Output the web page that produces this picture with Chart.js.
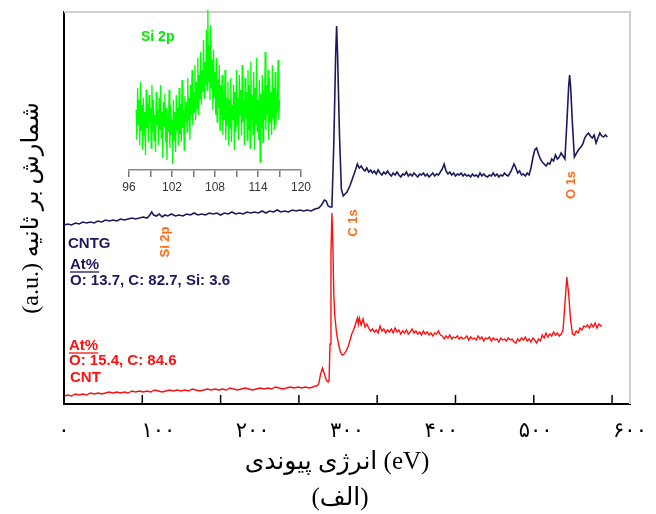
<!DOCTYPE html>
<html>
<head>
<meta charset="utf-8">
<script src="https://cdn.jsdelivr.net/npm/chart.js@4.4.0/dist/chart.umd.min.js"></script>
<style>
  body { margin: 0; background: #fff; }
  #wrap { position: relative; width: 656px; height: 514px; }
  #main { position: absolute; left: 0; top: 0; }
  #inset { position: absolute; left: 100px; top: 0; }
</style>
</head>
<body>
<div id="wrap">
  <canvas id="main" width="656" height="514"></canvas>
  <canvas id="inset" width="230" height="210"></canvas>
</div>
<script>
// binding energy (eV) / counts (a.u.)
const cntgEnergy = [0, 4, 8, 12, 16, 20, 24, 28, 32, 36, 40, 44, 48, 52, 56, 60, 64, 68, 72, 76, 80, 84, 88, 91, 93, 95, 98, 101, 104, 107, 110, 114, 118, 122, 126, 130, 134, 138, 142, 146, 150, 154, 158, 162, 166, 170, 174, 178, 182, 186, 190, 194, 198, 202, 206, 210, 214, 218, 222, 226, 230, 234, 238, 242, 246, 250, 254, 258, 262, 266, 270, 273, 276, 278, 280, 282, 284, 286, 288, 289, 290, 292, 294, 296, 298, 300, 303, 306, 309, 311, 313, 315, 317, 319, 321, 323, 325, 327, 329, 331, 333, 335, 337, 339, 341, 343, 345, 347, 349, 351, 353, 355, 357, 359, 361, 363, 365, 367, 369, 371, 373, 375, 377, 379, 381, 383, 385, 387, 389, 391, 393, 395, 397, 399, 401, 403, 405, 407, 409, 411, 413, 415, 417, 419, 421, 423, 425, 427, 429, 431, 433, 435, 437, 439, 441, 443, 445, 447, 449, 451, 453, 455, 457, 459, 461, 463, 465, 467, 469, 471, 474, 477, 479, 481, 483, 485, 487, 489, 491, 493, 495, 497, 499, 501, 503, 505, 507, 509, 511, 513, 515, 517, 519, 521, 523, 525, 527, 529, 531, 533, 535, 536, 537, 539, 541, 544, 546, 548, 550, 552, 554, 556, 558, 560, 562, 564, 566, 568, 570, 572, 574, 576];
const cntgCounts = [179, 180, 179, 181, 180, 182, 181, 182, 181, 183, 182, 184, 183, 184, 183, 185, 184, 185, 186, 185, 186, 187, 186, 189, 192, 189, 188, 190, 187, 189, 188, 190, 188, 189, 188, 190, 189, 191, 189, 190, 189, 191, 190, 191, 189, 191, 190, 192, 190, 191, 190, 192, 191, 192, 191, 193, 191, 193, 192, 194, 192, 193, 192, 194, 193, 194, 193, 194, 193, 195, 196, 199, 204, 203, 198, 197, 197, 260, 350, 378, 350, 270, 215, 208, 210, 212, 218, 226, 234, 240, 236, 238, 235, 233, 236, 232, 234, 231, 233, 230, 234, 231, 229, 232, 230, 233, 230, 228, 231, 229, 232, 229, 227, 230, 229, 232, 228, 230, 228, 231, 229, 227, 230, 229, 231, 228, 230, 227, 229, 231, 228, 230, 229, 232, 235, 240, 233, 230, 232, 229, 231, 228, 230, 229, 231, 228, 230, 228, 229, 227, 230, 228, 229, 227, 231, 228, 230, 228, 227, 229, 228, 231, 228, 230, 227, 229, 228, 231, 229, 228, 233, 240, 236, 231, 233, 229, 230, 228, 231, 229, 236, 246, 254, 256, 250, 245, 242, 240, 238, 241, 240, 245, 243, 249, 245, 247, 251, 248, 245, 280, 318, 329, 318, 280, 247, 252, 255, 257, 260, 266, 269, 271, 268, 266, 269, 261, 266, 271, 268, 267, 269, 267];

const cntEnergy = [0, 4, 8, 12, 16, 20, 24, 28, 32, 36, 40, 44, 48, 52, 56, 60, 64, 68, 72, 76, 80, 84, 88, 92, 96, 100, 104, 108, 112, 116, 120, 124, 128, 132, 136, 140, 144, 148, 152, 156, 160, 164, 168, 172, 176, 180, 184, 188, 192, 196, 200, 204, 208, 212, 216, 220, 224, 228, 232, 236, 240, 244, 248, 252, 256, 260, 264, 266, 268, 270, 272, 274, 276, 278, 280, 281, 282, 283, 284, 285, 286, 287, 289, 291, 293, 295, 297, 299, 301, 303, 305, 307, 309, 311, 312, 313, 315, 317, 319, 321, 323, 325, 327, 329, 331, 333, 335, 337, 339, 341, 343, 345, 347, 349, 351, 353, 355, 357, 359, 361, 363, 365, 367, 369, 371, 373, 375, 377, 379, 381, 383, 385, 387, 389, 391, 393, 395, 397, 399, 401, 403, 405, 407, 409, 411, 413, 415, 417, 419, 421, 423, 425, 427, 429, 431, 433, 435, 437, 439, 441, 443, 445, 447, 449, 451, 453, 455, 457, 459, 461, 463, 465, 467, 469, 471, 473, 475, 477, 479, 481, 483, 485, 487, 489, 491, 493, 495, 497, 499, 501, 503, 505, 507, 509, 511, 513, 515, 517, 519, 521, 523, 525, 527, 529, 531, 533, 535, 537, 539, 541, 543, 545, 547, 549, 551, 553, 555, 557, 559, 561, 563, 565, 567, 569, 570];
const cntCounts = [8, 9, 8, 10, 9, 10, 9, 11, 10, 11, 10, 11, 12, 11, 12, 11, 12, 11, 13, 12, 13, 12, 13, 12, 14, 13, 12, 13, 14, 13, 14, 13, 14, 13, 15, 14, 13, 14, 15, 14, 15, 14, 15, 14, 16, 15, 14, 15, 16, 15, 14, 15, 16, 15, 16, 15, 17, 16, 15, 16, 17, 16, 17, 16, 17, 16, 17, 18, 18, 20, 30, 36, 30, 24, 22, 24, 60, 150, 191, 160, 110, 89, 70, 60, 52, 49, 50, 53, 57, 63, 70, 74, 80, 86, 80, 86, 79, 85, 77, 80, 76, 73, 75, 72, 74, 71, 78, 73, 75, 71, 74, 72, 75, 71, 76, 72, 74, 70, 73, 71, 74, 70, 72, 75, 71, 73, 70, 72, 69, 73, 70, 72, 69, 71, 68, 71, 70, 73, 69, 68, 65, 68, 66, 69, 65, 67, 66, 68, 65, 67, 65, 66, 68, 64, 67, 65, 66, 64, 68, 65, 67, 63, 66, 65, 67, 63, 66, 64, 65, 62, 66, 64, 65, 63, 66, 64, 65, 62, 61, 65, 63, 66, 64, 67, 63, 65, 62, 66, 64, 61, 65, 63, 69, 66, 71, 67, 70, 68, 72, 69, 71, 68, 70, 74, 100, 127, 110, 84, 70, 69, 73, 71, 76, 74, 78, 77, 79, 76, 80, 77, 81, 76, 80, 78, 79];

// inset: Si 2p high-resolution region of CNTG, 0.1 eV steps from 97 to 117
const si2pEnergy = [97.0, 97.1, 97.2, 97.3, 97.4, 97.5, 97.6, 97.7, 97.8, 97.9, 98.0, 98.1, 98.2, 98.3, 98.4, 98.5, 98.6, 98.7, 98.8, 98.9, 99.0, 99.1, 99.2, 99.3, 99.4, 99.5, 99.6, 99.7, 99.8, 99.9, 100.0, 100.1, 100.2, 100.3, 100.4, 100.5, 100.6, 100.7, 100.8, 100.9, 101.0, 101.1, 101.2, 101.3, 101.4, 101.5, 101.6, 101.7, 101.8, 101.9, 102.0, 102.1, 102.2, 102.3, 102.4, 102.5, 102.6, 102.7, 102.8, 102.9, 103.0, 103.1, 103.2, 103.3, 103.4, 103.5, 103.6, 103.7, 103.8, 103.9, 104.0, 104.1, 104.2, 104.3, 104.4, 104.5, 104.6, 104.7, 104.8, 104.9, 105.0, 105.1, 105.2, 105.3, 105.4, 105.5, 105.6, 105.7, 105.8, 105.9, 106.0, 106.1, 106.2, 106.3, 106.4, 106.5, 106.6, 106.7, 106.8, 106.9, 107.0, 107.1, 107.2, 107.3, 107.4, 107.5, 107.6, 107.7, 107.8, 107.9, 108.0, 108.1, 108.2, 108.3, 108.4, 108.5, 108.6, 108.7, 108.8, 108.9, 109.0, 109.1, 109.2, 109.3, 109.4, 109.5, 109.6, 109.7, 109.8, 109.9, 110.0, 110.1, 110.2, 110.3, 110.4, 110.5, 110.6, 110.7, 110.8, 110.9, 111.0, 111.1, 111.2, 111.3, 111.4, 111.5, 111.6, 111.7, 111.8, 111.9, 112.0, 112.1, 112.2, 112.3, 112.4, 112.5, 112.6, 112.7, 112.8, 112.9, 113.0, 113.1, 113.2, 113.3, 113.4, 113.5, 113.6, 113.7, 113.8, 113.9, 114.0, 114.1, 114.2, 114.3, 114.4, 114.5, 114.6, 114.7, 114.8, 114.9, 115.0, 115.1, 115.2, 115.3, 115.4, 115.5, 115.6, 115.7, 115.8, 115.9, 116.0, 116.1, 116.2, 116.3, 116.4, 116.5, 116.6, 116.7, 116.8, 116.9, 117.0];
const si2pCounts = [
    60, 30, 82, 45, 70, 25, 88, 40, 65, 20,
    72, 35, 58, 15, 80, 42, 66, 28, 75, 48,
    62, 22, 85, 38, 70, 30, 55, 18, 78, 45,
    60, 25, 72, 40, 85, 32, 58, 12, 68, 44,
    76, 28, 62, 10, 55, 38, 80, 22, 65, 35,
    50, 6, 70, 30, 58, 18, 75, 40, 62, 25,
    82, 36, 66, 28, 90, 42, 60, 20, 74, 48,
    68, 38, 92, 50, 72, 30, 85, 55, 100, 45,
    78, 58, 105, 50, 88, 62, 112, 55, 95, 70,
    118, 65, 100, 78, 130, 72, 108, 85, 140, 80,
    160, 88, 125, 70, 145, 82, 110, 60, 120, 72,
    98, 55, 112, 48, 90, 62, 105, 40, 85, 55,
    95, 35, 78, 50, 100, 30, 72, 45, 88, 25,
    70, 42, 92, 28, 65, 50, 85, 20, 78, 38,
    100, 45, 72, 30, 95, 55, 80, 35, 105, 48,
    70, 25, 92, 52, 78, 30, 100, 40, 85, 22,
    108, 50, 75, 35, 98, 20, 82, 45, 112, 38,
    70, 30, 90, 8, 76, 42, 95, 28, 80, 50,
    118, 40, 85, 55, 100, 30, 92, 48, 78, 35,
    105, 52, 82, 40, 98, 45, 76, 58, 110, 50,
    70,
];

const xTickLabels = ["۰", "۱۰۰", "۲۰۰", "۳۰۰", "۴۰۰", "۵۰۰", "۶۰۰"];
const xTickMarks = [0, 83, 166, 249, 332, 415, 498, 581];
const insetTickLabels = [96, 102, 108, 114, 120];

const NAVY = "#1a1a5c";
const ORANGE = "#ff6a13";
const RED = "#ff1010";
const SANS = "'Liberation Sans', Arial, sans-serif";
const SERIF = "'Liberation Serif', 'DejaVu Serif', 'DejaVu Sans', serif";

const toPoints = (xs, ys) => xs.map((e, i) => ({ x: e, y: ys[i] }));

// frame, inward tick marks and all the text on the plot
const decorPlugin = {
    id: "decor",
    afterDraw(chart) {
        const { ctx, chartArea: a, scales: { x, y } } = chart;
        ctx.save();
        ctx.strokeStyle = "#cfcfcf";
        ctx.lineWidth = 2;
        ctx.beginPath();
        ctx.moveTo(a.left, a.top);
        ctx.lineTo(a.right, a.top);
        ctx.lineTo(a.right, a.bottom);
        ctx.stroke();

        ctx.strokeStyle = "#000";
        ctx.lineWidth = 1.5;
        xTickMarks.forEach((v) => {
            const px = x.getPixelForValue(v);
            ctx.beginPath();
            ctx.moveTo(px, a.bottom);
            ctx.lineTo(px, a.bottom - 9);
            ctx.stroke();
        });

        // peak labels, rotated
        const peaks = [
            { text: "Si 2p", e: 108, c: 162 },
            { text: "C 1s", e: 307, c: 181 },
            { text: "O 1s", e: 538, c: 219 },
        ];
        ctx.fillStyle = ORANGE;
        ctx.font = "bold 13px " + SANS;
        ctx.textAlign = "center";
        ctx.textBaseline = "middle";
        peaks.forEach((p) => {
            ctx.save();
            ctx.translate(x.getPixelForValue(p.e), y.getPixelForValue(p.c));
            ctx.rotate(-Math.PI / 2);
            ctx.fillText(p.text, 0, 0);
            ctx.restore();
        });

        // sample notes
        const line = (text, px, py, color, underline) => {
            ctx.fillStyle = color;
            ctx.fillText(text, px, py);
            if (underline) {
                const w = ctx.measureText(text).width;
                ctx.strokeStyle = color;
                ctx.lineWidth = 1.3;
                ctx.beginPath();
                ctx.moveTo(px, py + 7);
                ctx.lineTo(px + w, py + 7);
                ctx.stroke();
            }
        };
        ctx.textAlign = "left";
        ctx.font = "bold 15px " + SANS;
        line("CNTG", a.left + 4, 244, NAVY, false);
        line("At%", a.left + 6, 265, NAVY, true);
        line("O: 13.7, C: 82.7, Si: 3.6", a.left + 6, 281, NAVY, false);
        line("At%", a.left + 5, 346, RED, true);
        line("O: 15.4, C: 84.6", a.left + 5, 361, RED, false);
        line("CNT", a.left + 6, 378, RED, false);

        // inset label
        ctx.fillStyle = "#00ee00";
        ctx.font = "bold 14px " + SANS;
        ctx.fillText("Si 2p", 141, 37);

        // axis titles
        ctx.fillStyle = "#000";
        ctx.textAlign = "center";
        ctx.font = "25px " + SERIF;
        ctx.fillText("انرژی پیوندی (eV)", 337, 462);
        ctx.fillText("(الف)", 340, 498);

        ctx.save();
        ctx.translate(32, 208);
        ctx.rotate(-Math.PI / 2);
        ctx.font = "24px " + SERIF;
        ctx.fillText("(a.u.) شمارش بر ثانیه", 0, 0);
        ctx.restore();

        ctx.restore();
    },
};

new Chart(document.getElementById("main"), {
    type: "line",
    data: {
        datasets: [
            {
                label: "CNTG",
                data: toPoints(cntgEnergy, cntgCounts),
                borderColor: NAVY,
                borderWidth: 1.6,
                pointRadius: 0,
                tension: 0,
            },
            {
                label: "CNT",
                data: toPoints(cntEnergy, cntCounts),
                borderColor: RED,
                borderWidth: 1.4,
                pointRadius: 0,
                tension: 0,
            },
        ],
    },
    options: {
        responsive: false,
        animation: false,
        events: [],
        layout: { padding: { left: 0, right: 26, top: 12, bottom: 0 } },
        plugins: { legend: { display: false }, tooltip: { enabled: false } },
        scales: {
            x: {
                type: "linear",
                min: 0,
                max: 600,
                afterFit(s) {
                    s.height = 110;
                    s.paddingLeft = 0;
                    s.paddingRight = 0;
                },
                ticks: {
                    stepSize: 100,
                    autoSkip: false,
                    maxRotation: 0,
                    padding: 15,
                    color: "#000",
                    font: { family: SERIF, size: 21 },
                    callback: (v) => xTickLabels[Math.round(v / 100)],
                },
                grid: { display: false, drawTicks: false },
                border: { display: true, color: "#000", width: 2 },
            },
            y: {
                min: 0,
                max: 392,
                afterFit(s) { s.width = 64; },
                ticks: { display: false },
                grid: { display: false, drawTicks: false },
                border: { display: true, color: "#000", width: 2 },
            },
        },
    },
    plugins: [decorPlugin],
});

new Chart(document.getElementById("inset"), {
    type: "line",
    data: {
        datasets: [
            {
                label: "Si 2p",
                data: toPoints(si2pEnergy, si2pCounts),
                borderColor: "#00ff00",
                borderWidth: 1.3,
                pointRadius: 0,
                tension: 0,
            },
        ],
    },
    options: {
        responsive: false,
        animation: false,
        events: [],
        layout: { padding: { left: 29, right: 29, top: 10, bottom: 0 } },
        plugins: { legend: { display: false }, tooltip: { enabled: false } },
        scales: {
            x: {
                type: "linear",
                min: 96,
                max: 120,
                afterFit(s) {
                    s.height = 40;
                    s.paddingLeft = 0;
                    s.paddingRight = 0;
                },
                ticks: {
                    stepSize: 3,
                    autoSkip: false,
                    maxRotation: 0,
                    padding: 3,
                    color: "#333",
                    font: { family: SANS, size: 12 },
                    callback: (v) => (insetTickLabels.includes(v) ? String(v) : ""),
                },
                grid: { drawOnChartArea: false, tickLength: 7, color: "#777", lineWidth: 1.5 },
                border: { color: "#888", width: 1.5 },
            },
            y: { display: false, min: 0, max: 160 },
        },
    },
});
</script>
</body>
</html>
